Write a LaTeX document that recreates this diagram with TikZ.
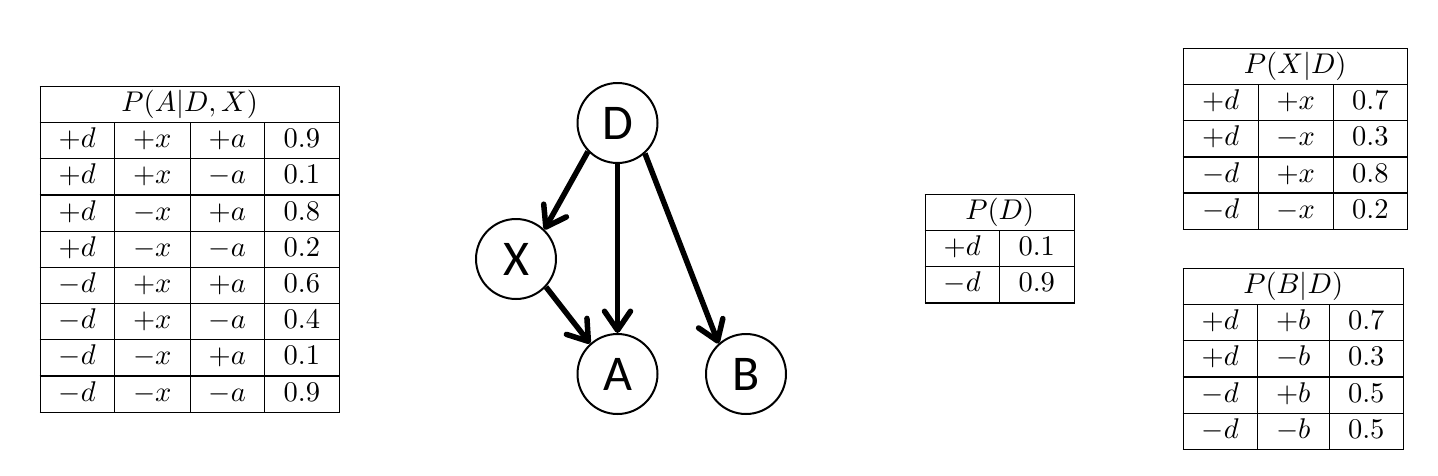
\documentclass[tikz,border=0pt]{standalone}
\usepackage{fontspec}
\usepackage{graphicx}
\usepackage{array}
\usetikzlibrary{arrows.meta}
\newfontfamily\nodefont{Carlito}
\setlength{\tabcolsep}{0pt}
\setlength{\arrayrulewidth}{0.43pt}
\newcommand{\cpt}[1]{\scalebox{2.85}{#1}}
\begin{document}
\begin{tikzpicture}[x=1pt,y=1pt,
  tbl/.style={inner sep=0pt, anchor=north west, font=\fontsize{10}{12.28}\selectfont},
  var/.style={circle, draw, line width=2pt, minimum size=80pt, inner sep=0pt,
    font=\nodefont\fontsize{50}{50}\selectfont},
  arr/.style={line width=5.5pt, -{Straight Barb[round,length=19pt,width=26pt]}}]
\fill[white] (0,0) rectangle (1438,-475);
\useasboundingbox (0,0) rectangle (1438,-475);

% P(A|D,X)
\node[tbl] (tA) at (39.4,-85.4) {\cpt{\begin{tabular}{|w{c}{25.544pt}|w{c}{26.246pt}|w{c}{25.544pt}|w{c}{25.895pt}|}
\hline
\multicolumn{4}{|c|}{$P(A|D,X)$}\\ \hline
$+d$ & $+x$ & $+a$ & $0.9$\\ \hline
$+d$ & $+x$ & $-a$ & $0.1$\\ \hline
$+d$ & $-x$ & $+a$ & $0.8$\\ \hline
$+d$ & $-x$ & $-a$ & $0.2$\\ \hline
$-d$ & $+x$ & $+a$ & $0.6$\\ \hline
$-d$ & $+x$ & $-a$ & $0.4$\\ \hline
$-d$ & $-x$ & $+a$ & $0.1$\\ \hline
$-d$ & $-x$ & $-a$ & $0.9$\\ \hline
\end{tabular}}};

% P(D)
\node[tbl] (tD) at (924.4,-193.4) {\cpt{\begin{tabular}{|w{c}{25.544pt}|w{c}{25.895pt}|}
\hline
\multicolumn{2}{|c|}{$P(D)$}\\ \hline
$+d$ & $0.1$\\ \hline
$-d$ & $0.9$\\ \hline
\end{tabular}}};

% P(X|D)
\node[tbl] (tX) at (1182.4,-47.4) {\cpt{\begin{tabular}{|w{c}{25.895pt}|w{c}{25.895pt}|w{c}{25.544pt}|}
\hline
\multicolumn{3}{|c|}{$P(X|D)$}\\ \hline
$+d$ & $+x$ & $0.7$\\ \hline
$+d$ & $-x$ & $0.3$\\ \hline
$-d$ & $+x$ & $0.8$\\ \hline
$-d$ & $-x$ & $0.2$\\ \hline
\end{tabular}}};

% P(B|D)
\node[tbl] (tB) at (1182.4,-267.4) {\cpt{\begin{tabular}{|w{c}{25.544pt}|w{c}{24.842pt}|w{c}{25.544pt}|}
\hline
\multicolumn{3}{|c|}{$P(B|D)$}\\ \hline
$+d$ & $+b$ & $0.7$\\ \hline
$+d$ & $-b$ & $0.3$\\ \hline
$-d$ & $+b$ & $0.5$\\ \hline
$-d$ & $-b$ & $0.5$\\ \hline
\end{tabular}}};

% Bayes net
\node[var] (D) at (617.5,-123) {D};
\node[var] (X) at (516,-259) {X};
\node[var] (A) at (617.5,-374) {A};
\node[var] (B) at (746,-374) {B};

\draw[arr] (D.224) -- (X.46);
\draw[arr] (D.south) -- (A.north);
\draw[arr] (D.312) -- (B.132);
\draw[arr] (X.317) -- (A.132);
\end{tikzpicture}
\end{document}
